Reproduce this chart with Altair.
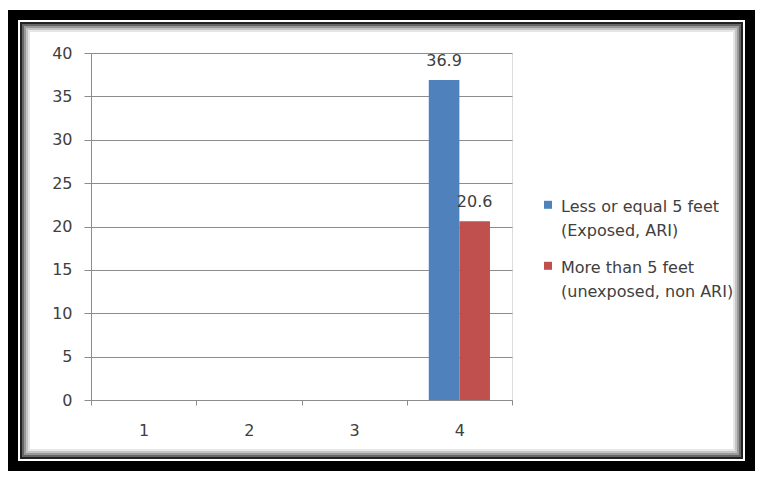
import altair as alt
import pandas as pd

# ---- data ----
categories = ["1", "2", "3", "4"]
series = ["Less or equal 5 feet (Exposed, ARI)", "More than 5 feet (unexposed, non ARI)"]
values_exposed = [None, None, None, 36.9]
values_unexposed = [None, None, None, 20.6]
y_ticks = [0, 5, 10, 15, 20, 25, 30, 35, 40]
colors = ["#4f81bd", "#c0504d"]

rows = []
for c, a, b in zip(categories, values_exposed, values_unexposed):
    rows.append({"cat": c, "series": series[0], "value": a})
    rows.append({"cat": c, "series": series[1], "value": b})
df = pd.DataFrame(rows)

# ---- layout ----
W, H = 747, 463
PL, PT = 83, 45
PW, PH = 421, 347
PR, PB = W - PL - PW, H - PT - PH

FONT = "DejaVu Sans"
TXT = "#404040"
GRID = "#8c8c8c"

x_enc = alt.X(
    "cat:N",
    scale=alt.Scale(domain=categories, paddingInner=0, paddingOuter=0),
    axis=alt.Axis(title=None, labelAngle=0, tickBand="extent", tickSize=5,
                  labelPadding=17, domainColor=GRID, tickColor=GRID, grid=False,
                  labelFont=FONT, labelFontSize=16, labelColor=TXT),
)
y_enc = alt.Y(
    "value:Q",
    scale=alt.Scale(domain=[0, 40], nice=False),
    axis=alt.Axis(title=None, values=y_ticks, tickSize=7, labelPadding=12,
                  grid=True, gridColor=GRID, domainColor=GRID, tickColor=GRID,
                  labelFont=FONT, labelFontSize=16, labelColor=TXT),
)
xoff = alt.XOffset("series:N", scale=alt.Scale(domain=series, paddingInner=0, paddingOuter=0.72))

label_expr = ("[substring(datum.label, 0, indexof(datum.label, ' (')), "
              "substring(datum.label, indexof(datum.label, ' (') + 1)]")

# square legend swatch, nudged down so it lines up with the first label line
swatch = "M-1,0.45L1,0.45L1,2.45L-1,2.45Z"

color_enc = alt.Color(
    "series:N",
    scale=alt.Scale(domain=series, range=colors),
    legend=alt.Legend(title=None, orient="none", legendX=449, legendY=138,
                      symbolType=swatch, symbolSize=64, symbolStrokeWidth=0,
                      labelExpr=label_expr, labelFont=FONT, labelFontSize=16,
                      labelColor=TXT, labelBaseline="top",
                      labelOffset=5, labelLimit=300, rowPadding=13, padding=0),
)

base = alt.Chart(df)
bars = base.mark_bar().encode(x=x_enc, xOffset=xoff, y=y_enc, color=color_enc)
labels = base.mark_text(dy=-14, fontSize=16, font=FONT, color=TXT, baseline="alphabetic").encode(
    x=x_enc, xOffset=xoff, y=y_enc, text=alt.Text("value:Q", format=".1f")
)

# ---- decorative picture frame (inset, stroke width, colour) ----
rings = [(5, 10, "#000000"), (13, 2, "#222222"), (15, 2, "#666666"),
         (17, 2, "#999999"), (19, 2, "#c4c4c4"), (21, 2, "#e6e6e6")]
one = pd.DataFrame({"k": [0]})
frame_layers = []
for d, w, col in rings:
    frame_layers.append(
        alt.Chart(one).mark_rect(filled=False, stroke=col, strokeWidth=w).encode(
            x=alt.value(d - PL), x2=alt.value(W - d - PL),
            y=alt.value(d + 2 - PT), y2=alt.value(H - d - PT),
        )
    )

chart = alt.layer(*frame_layers, bars, labels).properties(
    width=PW, height=PH,
    padding={"left": PL, "top": PT, "right": PR, "bottom": PB},
    autosize=alt.AutoSizeParams(type="none"),
    background="white",
).configure_view(strokeWidth=0).configure(
    style={"guide-label": {"font": FONT, "fontSize": 16, "fill": TXT, "lineHeight": 24}}
)

chart.save("out.html", embed_options={"renderer": "svg", "actions": False})
